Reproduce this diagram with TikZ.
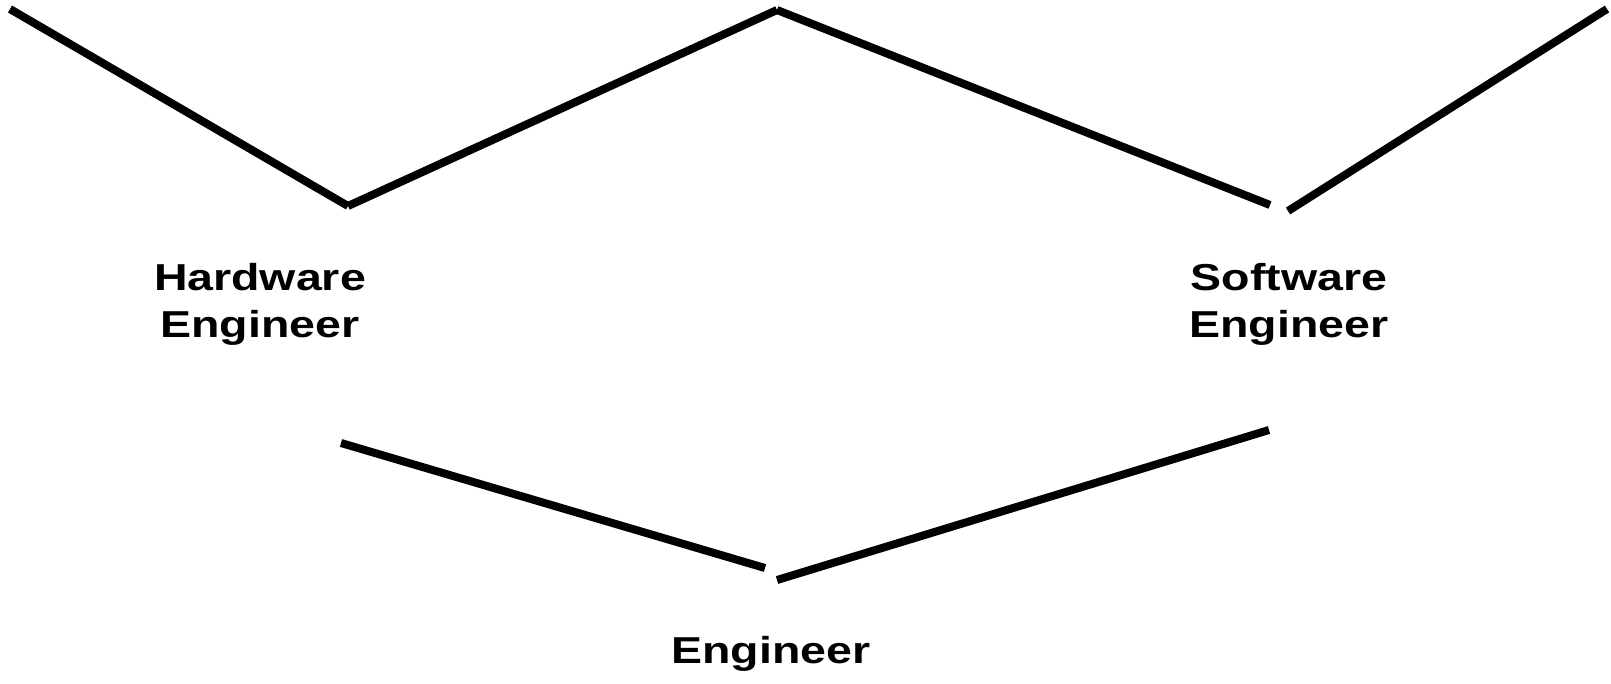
\documentclass[tikz,border=0pt]{standalone}
\usepackage{fontspec}
\setmainfont{Liberation Sans}
\usetikzlibrary{positioning}

\begin{document}
\begin{tikzpicture}[x=1pt,y=-1pt,line width=8pt,
  lbl/.style={font=\bfseries\fontsize{37.5}{47}\selectfont,align=center,anchor=base,xscale=1.24,transform shape}]
  \useasboundingbox (0,0) rectangle (1611,683); % 全体の大きさ
  % 上の折れ線の端点
  \coordinate (topL) at (10,9);
  \coordinate (hwC) at (348,206);
  \coordinate (topM) at (777,10);
  \coordinate (swL) at (1270,205);
  \coordinate (swR) at (1288,211);
  \coordinate (topR) at (1607,9);
  % 下の線の端点
  \coordinate (hwB) at (341,443);
  \coordinate (engL) at (765,568);
  \coordinate (engR) at (777,580);
  \coordinate (swB) at (1269,430);
  \draw (topL) -- (hwC); % 左上の線
  \draw (hwC) -- (topM); % Hardware から中央の頂点へ
  \draw (topM) -- (swL); % 中央の頂点から Software へ
  \draw (swR) -- (topR); % 右上の線
  \draw (hwB) -- (engL); % Hardware から Engineer へ
  \draw (engR) -- (swB); % Engineer から Software へ
  \node[lbl] (hw) at (260,337) {Hardware\\Engineer}; % base は最後の行
  \node[lbl] (sw) at (1289,337) {Software\\Engineer};
  \node[lbl] (eng) at (771,663) {Engineer};
\end{tikzpicture}
\end{document}
